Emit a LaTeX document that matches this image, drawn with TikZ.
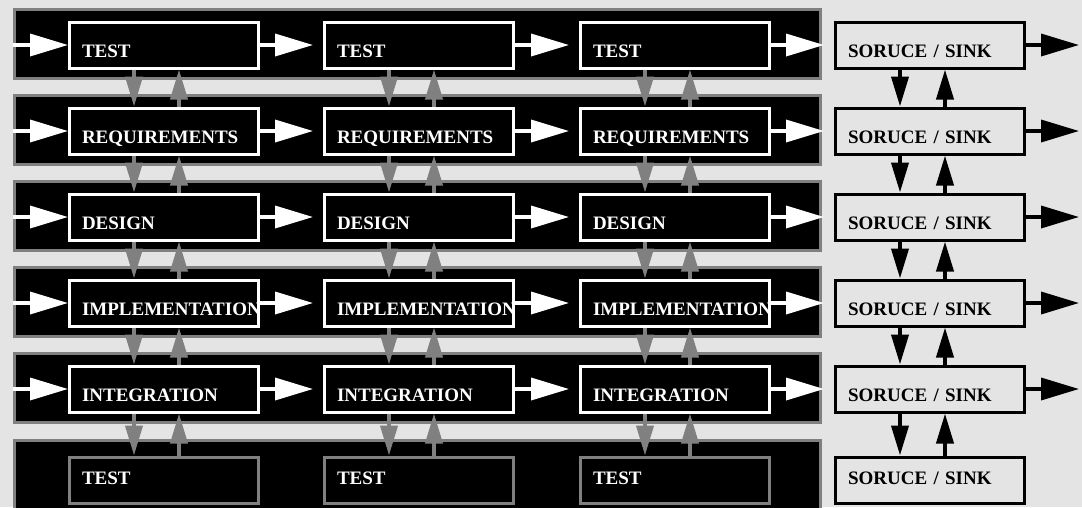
\documentclass[tikz,border=0pt]{standalone}
\usepackage{fontspec}
\setmainfont{Liberation Serif}
\usetikzlibrary{arrows.meta}
\definecolor{bgGray}{RGB}{228,228,228}
\definecolor{midGray}{RGB}{128,128,128}
\begin{document}
\begin{tikzpicture}[x=1pt, y=-1pt,
    bandStyle/.style={rectangle, draw=midGray, fill=black, line width=3pt, minimum width=806pt, minimum height=69pt, inner sep=0pt},
    boxStyle/.style={rectangle, line width=3pt, minimum height=46pt, text width=164pt, inner xsep=12.5pt, inner ysep=0pt, align=left, font=\bfseries\fontsize{19pt}{22pt}\selectfont, text height=25pt, text depth=0pt},
    stageStyle/.style={boxStyle, draw=white, fill=black, text=white},
    lastStyle/.style={boxStyle, draw=midGray, fill=black, text=white, text height=13pt, text depth=5pt},
    sinkStyle/.style={boxStyle, draw=black, fill=bgGray, text=black},
    lastSinkStyle/.style={sinkStyle, text height=13pt, text depth=5pt},
    flowArrow/.style={every edge/.style={draw, line width=3.5pt, -{Triangle[length=38pt, width=22pt]}}},
    linkArrow/.style={every edge/.style={draw, line width=4pt, -{Triangle[length=30pt, width=17pt]}}}]
    \fill[bgGray] (0,0) rectangle (1082,507);
    \useasboundingbox (0,0) rectangle (1082,507);
    % bands
    \node[bandStyle] (band_1) at (417.5,  44) {};
    \node[bandStyle] (band_2) at (417.5, 130) {};
    \node[bandStyle] (band_3) at (417.5, 216) {};
    \node[bandStyle] (band_4) at (417.5, 302) {};
    \node[bandStyle] (band_5) at (417.5, 388) {};
    \node[bandStyle, minimum height=90pt] (band_6) at (417.5, 485) {};
    % boxes
    \node[stageStyle]    (test_1)   at (164,  45) {TEST};
    \node[stageStyle]    (test_2)   at (419,  45) {TEST};
    \node[stageStyle]    (test_3)   at (675,  45) {TEST};
    \node[sinkStyle]     (src_1)    at (930,  45) {SORUCE / SINK};
    \node[stageStyle]    (req_1)    at (164, 131) {REQUIREMENTS};
    \node[stageStyle]    (req_2)    at (419, 131) {REQUIREMENTS};
    \node[stageStyle]    (req_3)    at (675, 131) {REQUIREMENTS};
    \node[sinkStyle]     (src_2)    at (930, 131) {SORUCE / SINK};
    \node[stageStyle]    (design_1) at (164, 217) {DESIGN};
    \node[stageStyle]    (design_2) at (419, 217) {DESIGN};
    \node[stageStyle]    (design_3) at (675, 217) {DESIGN};
    \node[sinkStyle]     (src_3)    at (930, 217) {SORUCE / SINK};
    \node[stageStyle]    (impl_1)   at (164, 303) {IMPLEMENTATION};
    \node[stageStyle]    (impl_2)   at (419, 303) {IMPLEMENTATION};
    \node[stageStyle]    (impl_3)   at (675, 303) {IMPLEMENTATION};
    \node[sinkStyle]     (src_4)    at (930, 303) {SORUCE / SINK};
    \node[stageStyle]    (integ_1)  at (164, 389) {INTEGRATION};
    \node[stageStyle]    (integ_2)  at (419, 389) {INTEGRATION};
    \node[stageStyle]    (integ_3)  at (675, 389) {INTEGRATION};
    \node[sinkStyle]     (src_5)    at (930, 389) {SORUCE / SINK};
    \node[lastStyle]     (check_1)  at (164, 480) {TEST};
    \node[lastStyle]     (check_2)  at (419, 480) {TEST};
    \node[lastStyle]     (check_3)  at (675, 480) {TEST};
    \node[lastSinkStyle] (src_6)    at (930, 480) {SORUCE / SINK};
    % outputs
    \coordinate (out_1) at (1079,  45);
    \coordinate (out_2) at (1079, 131);
    \coordinate (out_3) at (1079, 217);
    \coordinate (out_4) at (1079, 303);
    \coordinate (out_5) at (1079, 389);
    % horizontal flow
    \path[flowArrow, white] (band_1.west |- test_1.west) edge (test_1.west)
        (test_1.east) edge[shorten >=10pt] (test_2.west)
        (test_2.east) edge[shorten >=10pt] (test_3.west)
        (test_3.east) edge[shorten >=10pt] (src_1.west);
    \path[flowArrow, white] (band_2.west |- req_1.west) edge (req_1.west)
        (req_1.east) edge[shorten >=10pt] (req_2.west)
        (req_2.east) edge[shorten >=10pt] (req_3.west)
        (req_3.east) edge[shorten >=10pt] (src_2.west);
    \path[flowArrow, white] (band_3.west |- design_1.west) edge (design_1.west)
        (design_1.east) edge[shorten >=10pt] (design_2.west)
        (design_2.east) edge[shorten >=10pt] (design_3.west)
        (design_3.east) edge[shorten >=10pt] (src_3.west);
    \path[flowArrow, white] (band_4.west |- impl_1.west) edge (impl_1.west)
        (impl_1.east) edge[shorten >=10pt] (impl_2.west)
        (impl_2.east) edge[shorten >=10pt] (impl_3.west)
        (impl_3.east) edge[shorten >=10pt] (src_4.west);
    \path[flowArrow, white] (band_5.west |- integ_1.west) edge (integ_1.west)
        (integ_1.east) edge[shorten >=10pt] (integ_2.west)
        (integ_2.east) edge[shorten >=10pt] (integ_3.west)
        (integ_3.east) edge[shorten >=10pt] (src_5.west);
    \path[flowArrow, black] (src_1.east) edge (out_1) (src_2.east) edge (out_2)
        (src_3.east) edge (out_3) (src_4.east) edge (out_4) (src_5.east) edge (out_5);
    % vertical links
    \path[linkArrow, midGray]
        ([xshift=-30pt]test_1.south) edge ([xshift=-30pt]req_1.north) ([xshift=15pt]req_1.north) edge ([xshift=15pt]test_1.south)
        ([xshift=-30pt]test_2.south) edge ([xshift=-30pt]req_2.north) ([xshift=15pt]req_2.north) edge ([xshift=15pt]test_2.south)
        ([xshift=-30pt]test_3.south) edge ([xshift=-30pt]req_3.north) ([xshift=15pt]req_3.north) edge ([xshift=15pt]test_3.south);
    \path[linkArrow, midGray]
        ([xshift=-30pt]req_1.south) edge ([xshift=-30pt]design_1.north) ([xshift=15pt]design_1.north) edge ([xshift=15pt]req_1.south)
        ([xshift=-30pt]req_2.south) edge ([xshift=-30pt]design_2.north) ([xshift=15pt]design_2.north) edge ([xshift=15pt]req_2.south)
        ([xshift=-30pt]req_3.south) edge ([xshift=-30pt]design_3.north) ([xshift=15pt]design_3.north) edge ([xshift=15pt]req_3.south);
    \path[linkArrow, midGray]
        ([xshift=-30pt]design_1.south) edge ([xshift=-30pt]impl_1.north) ([xshift=15pt]impl_1.north) edge ([xshift=15pt]design_1.south)
        ([xshift=-30pt]design_2.south) edge ([xshift=-30pt]impl_2.north) ([xshift=15pt]impl_2.north) edge ([xshift=15pt]design_2.south)
        ([xshift=-30pt]design_3.south) edge ([xshift=-30pt]impl_3.north) ([xshift=15pt]impl_3.north) edge ([xshift=15pt]design_3.south);
    \path[linkArrow, midGray]
        ([xshift=-30pt]impl_1.south) edge ([xshift=-30pt]integ_1.north) ([xshift=15pt]integ_1.north) edge ([xshift=15pt]impl_1.south)
        ([xshift=-30pt]impl_2.south) edge ([xshift=-30pt]integ_2.north) ([xshift=15pt]integ_2.north) edge ([xshift=15pt]impl_2.south)
        ([xshift=-30pt]impl_3.south) edge ([xshift=-30pt]integ_3.north) ([xshift=15pt]integ_3.north) edge ([xshift=15pt]impl_3.south);
    \path[linkArrow, midGray]
        ([xshift=-30pt]integ_1.south) edge ([xshift=-30pt]check_1.north) ([xshift=15pt]check_1.north) edge ([xshift=15pt]integ_1.south)
        ([xshift=-30pt]integ_2.south) edge ([xshift=-30pt]check_2.north) ([xshift=15pt]check_2.north) edge ([xshift=15pt]integ_2.south)
        ([xshift=-30pt]integ_3.south) edge ([xshift=-30pt]check_3.north) ([xshift=15pt]check_3.north) edge ([xshift=15pt]integ_3.south);
    \path[linkArrow, black]
        ([xshift=-30pt]src_1.south) edge ([xshift=-30pt]src_2.north) ([xshift=15pt]src_2.north) edge ([xshift=15pt]src_1.south)
        ([xshift=-30pt]src_2.south) edge ([xshift=-30pt]src_3.north) ([xshift=15pt]src_3.north) edge ([xshift=15pt]src_2.south)
        ([xshift=-30pt]src_3.south) edge ([xshift=-30pt]src_4.north) ([xshift=15pt]src_4.north) edge ([xshift=15pt]src_3.south)
        ([xshift=-30pt]src_4.south) edge ([xshift=-30pt]src_5.north) ([xshift=15pt]src_5.north) edge ([xshift=15pt]src_4.south)
        ([xshift=-30pt]src_5.south) edge ([xshift=-30pt]src_6.north) ([xshift=15pt]src_6.north) edge ([xshift=15pt]src_5.south);
\end{tikzpicture}
\end{document}
